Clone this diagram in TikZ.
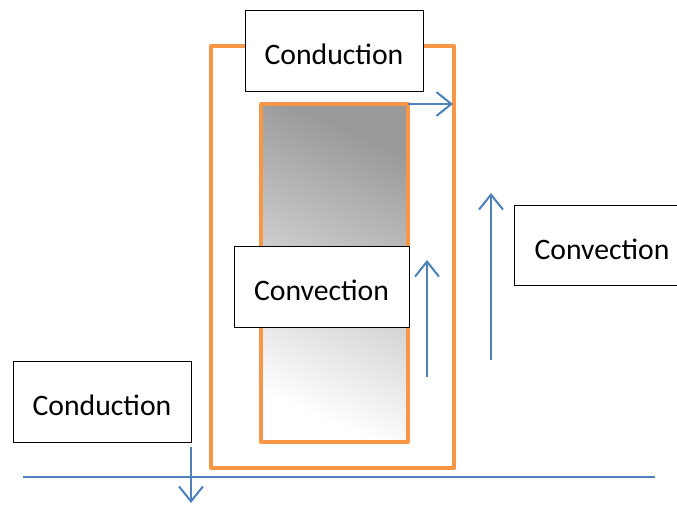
\documentclass[tikz,border=0pt]{standalone}
\usepackage{fontspec}
\setmainfont{Carlito}
\usetikzlibrary{arrows.meta}
\definecolor{orng}{HTML}{F79646}
\definecolor{blu}{HTML}{4F81BD}
\tikzset{
  txtbox/.style={draw=black, line width=1pt, fill=white, inner sep=0pt,
    font=\fontsize{29.7}{36}\selectfont, anchor=center, text height=28pt, text depth=0pt},
  frame/.style={draw=orng, line width=4pt, line join=round},
  flow/.style={draw=blu, line width=2pt, -{Straight Barb[length=15pt,width=24pt,line width=2pt]}},
  plain/.style={draw=blu, line width=2pt}
}
\begin{document}
\begin{tikzpicture}[x=1pt,y=-1pt]
\useasboundingbox (0,0) rectangle (677,527);
% outer orange frame
\draw[frame] (211,46) rectangle (454,468);
% inner shaded block
\shade[bottom color=white, top color=black!40, shading angle=-24] (261,104) rectangle (408,442);
\draw[frame] (261,104) rectangle (408,442);
% ground line
\coordinate (gl) at (23,477);
\coordinate (gr) at (655,477);
\draw[plain] (gl) -- (gr);
% text boxes
\node[txtbox, minimum width=178pt, minimum height=80pt] (condtop) at (334,51) {Conduction};
\node[txtbox, minimum width=175pt, minimum height=81pt] (convmid) at (321.5,286.5) {Convection};
\node[txtbox, minimum width=176pt, minimum height=80pt] (convright) at (602,245) {Convection};
\node[txtbox, minimum width=178pt, minimum height=81pt] (condleft) at (102,401.5) {Conduction};
% arrows
\coordinate (a1s) at (408,104);
\coordinate (a1e) at (453,104);
\draw[flow] (a1s) -- (a1e);
\coordinate (a2s) at (191,447);
\coordinate (a2e) at (191,503);
\draw[flow] (a2s) -- (a2e);
\coordinate (a3s) at (427,377);
\coordinate (a3e) at (427,260);
\draw[flow] (a3s) -- (a3e);
\coordinate (a4s) at (491,360);
\coordinate (a4e) at (491,193);
\draw[flow] (a4s) -- (a4e);
\end{tikzpicture}
\end{document}
